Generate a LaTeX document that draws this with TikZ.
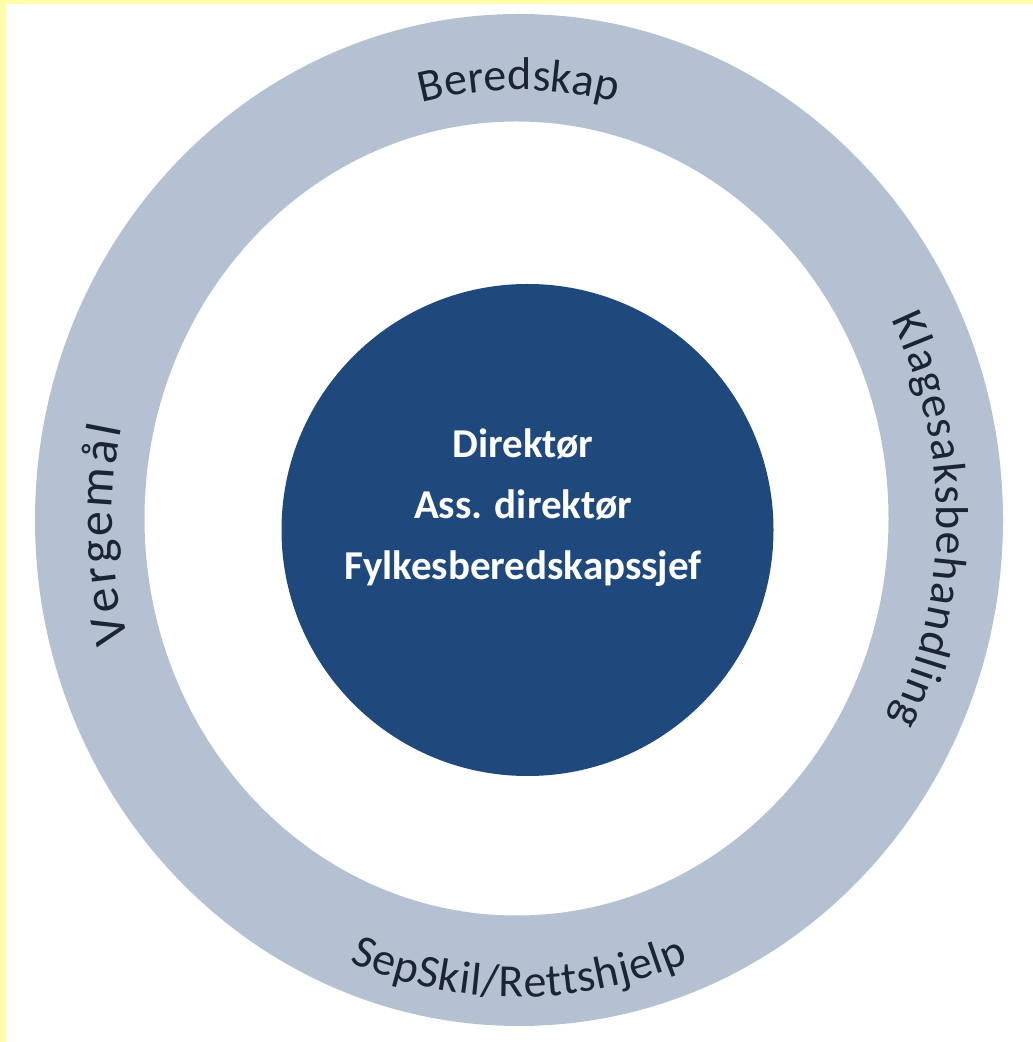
\documentclass[tikz,border=0pt]{standalone}
\usepackage{fontspec}
\setmainfont{Carlito}
\usetikzlibrary{decorations.text,calc}
\definecolor{ringblue}{HTML}{B4C1D3}
\definecolor{coreblue}{HTML}{1F497D}
\definecolor{frameyellow}{HTML}{FFFFAA}
\definecolor{labelink}{HTML}{1B2433}
\tikzset{
  coreblock/.style={circle, fill=coreblue, inner sep=0pt, minimum size=492pt},
  coretext/.style={align=center, text=white, font=\bfseries\fontsize{41}{61}\selectfont, inner sep=0pt},
  bandtext/.style 2 args={decorate, decoration={text effects along path, text={#1}, text align=center,
    text effects/.cd, text along path, characters={text=labelink, font=\fontsize{46}{50}\selectfont, inner ysep=0pt, #2}}}
}

\begin{document}
\begin{tikzpicture}[x=1pt,y=1pt]
  \useasboundingbox (0,0) rectangle (1033,1042);
  \fill[frameyellow] (0,1038) rectangle (1033,1042);
  \fill[frameyellow] (0,0) rectangle (6,1042);
  \coordinate (c) at (519,522);
  \fill[ringblue, even odd rule] (c) ellipse [x radius=484pt, y radius=506pt]
    (516.5,523.5) ellipse [x radius=372pt, y radius=397pt];
  \node[coreblock] (core) at (527.5,512) {};
  \node[coretext] (title) at (523,534) {Direktør\\Ass. direktør\\Fylkesberedskapssjef};
  \path[bandtext={Beredskap}{inner xsep=0pt}] ($(c)+(125:408pt and 430pt)$) arc[start angle=125, end angle=55, x radius=408pt, y radius=430pt];
  \path[bandtext={Klagesaksbehandling}{inner xsep=0.7pt}] ($(c)+(50:418pt and 440pt)$) arc[start angle=50, end angle=-50, x radius=418pt, y radius=440pt];
  \path[bandtext={Vergemål}{inner xsep=1.5pt, font=\fontsize{50}{54}\selectfont}] ($(c)+(222:407pt and 430pt)$) arc[start angle=222, end angle=142, x radius=407pt, y radius=430pt];
  \path[bandtext={SepSkil/Rettshjelp}{inner xsep=0.3pt}] ($(c)+(235:455pt and 477pt)$) arc[start angle=235, end angle=305, x radius=455pt, y radius=477pt];
\end{tikzpicture}
\end{document}
